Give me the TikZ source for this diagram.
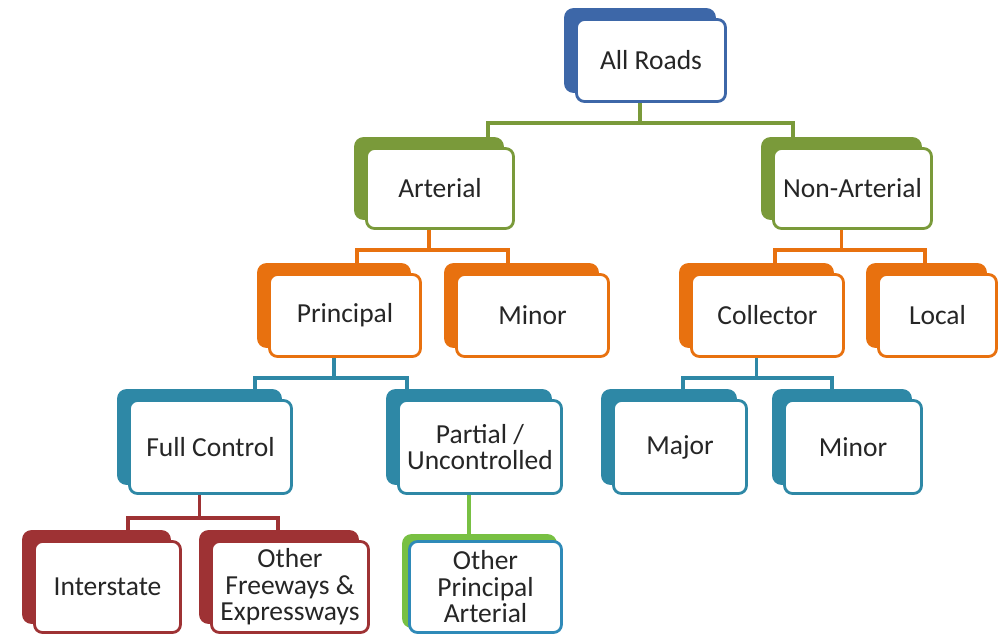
\documentclass[tikz,border=0pt]{standalone}
\usepackage{fontspec}
\setmainfont{Carlito}
\usepackage{xcolor}
\usepackage{tikz}
\usetikzlibrary{positioning}

\definecolor{roadblue}{HTML}{3D67A8}
\definecolor{roadgreen}{HTML}{7A9A3A}
\definecolor{roadorange}{HTML}{E8710F}
\definecolor{roadteal}{HTML}{2E88A6}
\definecolor{roadred}{HTML}{9E3234}
\definecolor{roadlime}{HTML}{78C043}
\definecolor{roadsky}{HTML}{2F8AB8}

\begin{document}
\begin{tikzpicture}[x=1pt,y=-1pt,
  box/.style={draw, line width=2.8pt, rounded corners=8pt, fill=white, align=center, text=black!85, inner sep=0pt, font=\fontsize{27.5}{26.5}\selectfont},
  back/.style={draw, line width=2.8pt, rounded corners=8pt, inner sep=0pt},
  link/.style={line width=3.4pt}]
\useasboundingbox (0,0) rectangle (1007,637);

% level 1
\node[back, fill=roadblue, draw=roadblue, minimum width=149pt, minimum height=82pt] (roads-b) at (640,50.5) {};
\node[box, draw=roadblue, minimum width=149pt, minimum height=82pt] (roads) at (651,60.5) {All Roads};

% level 2
\node[back, fill=roadgreen, draw=roadgreen, minimum width=147pt, minimum height=80pt] (art-b) at (429,178.5) {};
\node[box, draw=roadgreen, minimum width=147pt, minimum height=80pt] (art) at (440,188.5) {Arterial};
\node[back, fill=roadgreen, draw=roadgreen, minimum width=158pt, minimum height=80pt] (nonart-b) at (841.5,178.5) {};
\node[box, draw=roadgreen, minimum width=158pt, minimum height=80pt] (nonart) at (852.5,188.5) {Non-Arterial};

% level 3
\node[back, fill=roadorange, draw=roadorange, minimum width=151pt, minimum height=82pt] (princ-b) at (334,305.5) {};
\node[box, draw=roadorange, minimum width=151pt, minimum height=82pt] (princ) at (345,315.5) {Principal};
\node[back, fill=roadorange, draw=roadorange, minimum width=152pt, minimum height=82pt] (minart-b) at (521.5,305.5) {};
\node[box, draw=roadorange, minimum width=152pt, minimum height=82pt] (minart) at (532.5,315.5) {Minor};
\node[back, fill=roadorange, draw=roadorange, minimum width=152pt, minimum height=82pt] (coll-b) at (756.5,305.5) {};
\node[box, draw=roadorange, minimum width=152pt, minimum height=82pt] (coll) at (767.5,315.5) {Collector};
\node[back, fill=roadorange, draw=roadorange, minimum width=118pt, minimum height=82pt] (local-b) at (926.5,305.5) {};
\node[box, draw=roadorange, minimum width=118pt, minimum height=82pt] (local) at (937.5,315.5) {Local};

% level 4
\node[back, fill=roadteal, draw=roadteal, minimum width=162pt, minimum height=93pt] (full-b) at (199.5,437) {};
\node[box, draw=roadteal, minimum width=162pt, minimum height=93pt] (full) at (210.5,447) {Full Control};
\node[back, fill=roadteal, draw=roadteal, minimum width=163pt, minimum height=93pt] (part-b) at (469,437) {};
\node[box, draw=roadteal, minimum width=163pt, minimum height=93pt] (part) at (480,447) {Partial /\\Uncontrolled};
\node[back, fill=roadteal, draw=roadteal, minimum width=133pt, minimum height=93pt] (major-b) at (669,437) {};
\node[box, draw=roadteal, minimum width=133pt, minimum height=93pt] (major) at (680,447) {Major};
\node[back, fill=roadteal, draw=roadteal, minimum width=137pt, minimum height=93pt] (mincol-b) at (842,437) {};
\node[box, draw=roadteal, minimum width=137pt, minimum height=93pt] (mincol) at (853,447) {Minor};

% level 5
\node[back, fill=roadred, draw=roadred, minimum width=146pt, minimum height=91pt] (inter-b) at (96.5,577) {};
\node[box, draw=roadred, minimum width=146pt, minimum height=91pt] (inter) at (107.5,587) {Interstate};
\node[back, fill=roadred, draw=roadred, minimum width=157pt, minimum height=91pt] (free-b) at (279,577) {};
\node[box, draw=roadred, minimum width=157pt, minimum height=91pt] (free) at (290,587) {Other\\Freeways \&\\Expressways};
\node[back, fill=roadlime, draw=roadlime, minimum width=152pt, minimum height=91pt] (opa-b) at (479.5,581) {};
\node[box, draw=roadsky, minimum width=152pt, minimum height=91pt] (opa) at (485.5,587) {Other\\Principal\\Arterial};

% joints
\coordinate (j1l) at (488,123);  \coordinate (j1r) at (793,123);
\coordinate (j2l) at (357,250);  \coordinate (j2r) at (508,250);
\coordinate (j3l) at (775,250);  \coordinate (j3r) at (925,250);
\coordinate (j4l) at (255,378);  \coordinate (j4r) at (407,378);
\coordinate (j5l) at (683,378);  \coordinate (j5r) at (832,378);
\coordinate (j6l) at (128,518);  \coordinate (j6r) at (278,518);

% connectors
\draw[link, roadgreen] (roads-b.south |- roads.south) -- (roads-b.south |- j1l);
\draw[link, roadgreen] (j1l |- art-b.north) -- (j1l) -- (j1r) -- (j1r |- nonart-b.north);
\draw[link, roadorange] (art-b.south |- art.south) -- (art-b.south |- j2l);
\draw[link, roadorange] (j2l |- princ-b.north) -- (j2l) -- (j2r) -- (j2r |- minart-b.north);
\draw[link, roadorange] (nonart-b.south |- nonart.south) -- (nonart-b.south |- j3l);
\draw[link, roadorange] (j3l |- coll-b.north) -- (j3l) -- (j3r) -- (j3r |- local-b.north);
\draw[link, roadteal] (princ-b.south |- princ.south) -- (princ-b.south |- j4l);
\draw[link, roadteal] (j4l |- full-b.north) -- (j4l) -- (j4r) -- (j4r |- part-b.north);
\draw[link, roadteal] (coll-b.south |- coll.south) -- (coll-b.south |- j5l);
\draw[link, roadteal] (j5l |- major-b.north) -- (j5l) -- (j5r) -- (j5r |- mincol-b.north);
\draw[link, roadred] (full-b.south |- full.south) -- (full-b.south |- j6l);
\draw[link, roadred] (j6l |- inter-b.north) -- (j6l) -- (j6r) -- (j6r |- free-b.north);
\draw[link, roadlime] (part-b.south |- part.south) -- (part-b.south |- opa-b.north);
\end{tikzpicture}
\end{document}
